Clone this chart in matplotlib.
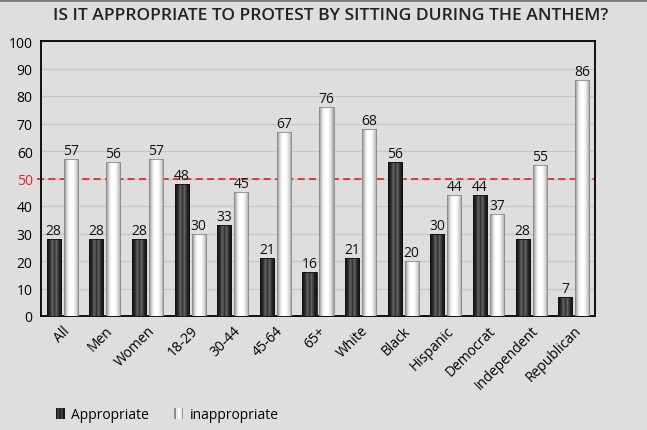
import numpy as np
import matplotlib
matplotlib.use("Agg")
import matplotlib.pyplot as plt
from matplotlib.colors import LinearSegmentedColormap
from matplotlib.patches import Rectangle
from matplotlib.legend_handler import HandlerBase

plt.rcParams['font.family'] = ['Open Sans', 'DejaVu Sans']

title = "IS IT APPROPRIATE TO PROTEST BY SITTING DURING THE ANTHEM?"
categories = ["All", "Men", "Women", "18-29", "30-44", "45-64", "65+", "White",
              "Black", "Hispanic", "Democrat", "Independent", "Republican"]
appropriate = [28, 28, 28, 48, 33, 21, 16, 21, 56, 30, 44, 28, 7]
inappropriate = [57, 56, 57, 30, 45, 67, 76, 68, 20, 44, 37, 55, 86]
series_names = ["Appropriate", "inappropriate"]
yticks = [0, 10, 20, 30, 40, 50, 60, 70, 80, 90, 100]
ref_line = 50

bg = "#dedede"
dark_cmap = LinearSegmentedColormap.from_list(
    "dark", ["#151515", "#1e1e1e", "#3a3a3a", "#6a6a6a", "#2a2a2a", "#6a6a6a", "#3a3a3a", "#1e1e1e", "#151515"])
light_cmap = LinearSegmentedColormap.from_list(
    "light", ["#8a8a8a", "#c8c8c8", "#f4f4f4", "#ffffff", "#ffffff", "#f0f0f0", "#d0d0d0", "#9a9a9a"])

fig = plt.figure(figsize=(6.47, 4.31), dpi=100, facecolor=bg)
ax = fig.add_axes([41 / 647, 1 - 317 / 431, (595 - 41) / 647, (317 - 42) / 431])
ax.set_facecolor(bg)

x = np.arange(len(categories))
w = 0.33
off = 0.2
grad = np.linspace(0, 1, 64).reshape(1, -1)

def gradient_bars(xs, vals, cmap, edge):
    bars = ax.bar(xs, vals, width=w, color="none", edgecolor=edge, linewidth=0.6, zorder=3)
    for b in bars:
        im = ax.imshow(grad, cmap=cmap, aspect="auto", zorder=2.9,
                       extent=[b.get_x(), b.get_x() + b.get_width(), 0, b.get_height()],
                       interpolation="bilinear")
        im.set_clip_path(b)
    return bars

b1 = gradient_bars(x - off, appropriate, dark_cmap, "#111111")
b2 = gradient_bars(x + off, inappropriate, light_cmap, "#888888")

for xi, v in zip(x - off, appropriate):
    ax.text(xi, v + 0.3, str(v), ha="center", va="bottom", fontsize=10, color="#111111", zorder=5)
for xi, v in zip(x + off, inappropriate):
    ax.text(xi, v + 0.3, str(v), ha="center", va="bottom", fontsize=10, color="#111111", zorder=5)

ax.axhline(ref_line, xmin=-0.008, xmax=1.0, color="#ee1c1c", linestyle=(0, (4.2, 2.6)),
           linewidth=1.2, zorder=2.5, clip_on=False)

ax.set_xlim(-0.5, len(categories) - 0.5)
ax.set_ylim(0, 100)
ax.set_yticks(yticks)
ax.set_yticklabels([str(t) for t in yticks], fontsize=10)
for lbl, t in zip(ax.get_yticklabels(), yticks):
    if t == ref_line:
        lbl.set_color("#e82020")
ax.set_xticks(x)
ax.set_xticklabels(categories, rotation=45, ha="right", rotation_mode="anchor", fontsize=10)
ax.tick_params(axis="both", length=0, pad=5)
ax.tick_params(axis="y", pad=6)
ax.grid(axis="y", color="#c6c6c6", linewidth=0.9, zorder=0)
ax.set_axisbelow(True)
for s in ax.spines.values():
    s.set_color("#000000")
    s.set_linewidth(1.3)

fig.text(0.5 + 7 / 647, 1 - 16 / 431, title, ha="center", va="center", fontsize=12.6,
         fontweight="semibold", color="#222222")

# top border line
fig.add_artist(plt.Line2D([0, 1], [1 - 1 / 431, 1 - 1 / 431], color="#7a7a7a", linewidth=2,
                          transform=fig.transFigure))

class GradHandler(HandlerBase):
    def __init__(self, cmap):
        super().__init__()
        self.cmap = cmap
    def create_artists(self, legend, orig_handle, xdescent, ydescent, width, height, fontsize, trans):
        n = 5
        arts = []
        cols = [self.cmap(v) for v in np.linspace(0, 1, n)]
        for i, c in enumerate(cols):
            r = Rectangle((xdescent + i * width / n, -ydescent), width / n, height,
                          facecolor=c, edgecolor="none", transform=trans)
            arts.append(r)
        return arts

h1 = Rectangle((0, 0), 1, 1)
h2 = Rectangle((0, 0), 1, 1)
leg = fig.legend([h1, h2], series_names, loc="center left",
                 bbox_to_anchor=(43 / 647, 1 - 416 / 431), ncol=2, frameon=False,
                 fontsize=10, handlelength=0.65, handleheight=0.9, handletextpad=0.5,
                 columnspacing=1.8,
                 handler_map={h1: GradHandler(dark_cmap), h2: GradHandler(light_cmap)})

fig.savefig("out.png", dpi=100, facecolor=bg)
